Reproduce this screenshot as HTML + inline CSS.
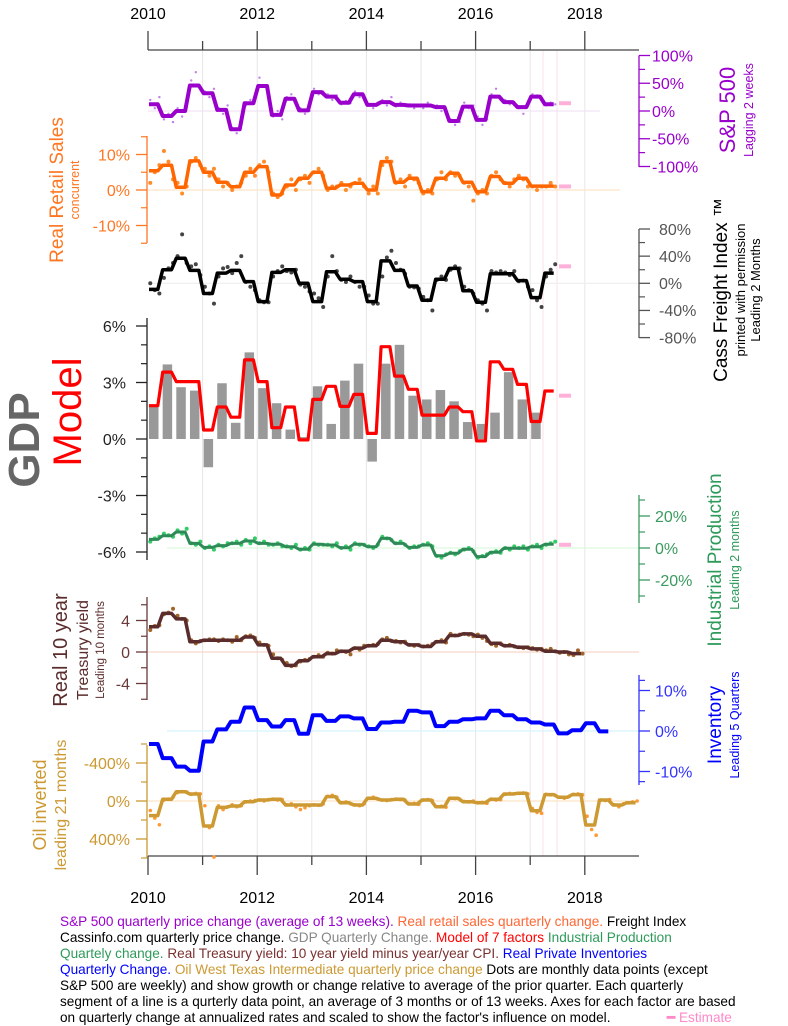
<!DOCTYPE html>
<html><head><meta charset="utf-8"><style>
body{margin:0;background:#fff;width:788px;height:1024px;overflow:hidden;font-family:"Liberation Sans",Arial,sans-serif}
svg{position:absolute;left:0;top:0}
#cap{position:absolute;left:60px;top:914px;width:720px;font-size:13.6px;line-height:16px;color:#000;white-space:nowrap}
</style></head><body>
<svg id="c" width="788" height="1024"></svg>
<div id="cap"><span style="color:#9900cc">S&amp;P 500 quarterly price change (average of 13 weeks).</span> <span style="color:#ff6633">Real retail sales quarterly change.</span> Freight Index<br>Cassinfo.com quarterly price change. <span style="color:#888">GDP Quarterly Change.</span> <span style="color:#ff0000">Model of 7 factors</span> <span style="color:#2e9a5a">Industrial Production</span><br><span style="color:#2e9a5a">Quartely change.</span> <span style="color:#7a3030">Real Treasury yield: 10 year yield minus year/year CPI.</span> <span style="color:#0000ff">Real Private Inventories</span><br><span style="color:#0000ff">Quarterly Change.</span> <span style="color:#cc9933">Oil West Texas Intermediate quarterly price change</span> Dots are monthly data points (except<br>S&amp;P 500 are weekly) and show growth or change relative to average of the prior quarter. Each quarterly<br>segment of a line is a qurterly data point, an average of 3 months or of 13 weeks. Axes for each factor are based<br>on quarterly change at annualized rates and scaled to show the factor's influence on model.<span style="color:#ff88c8;position:absolute;left:607px"><b>━</b> Estimate</span></div>
<script>
const years=[2010,2011,2012,2013,2014,2015,2016,2017,2018];
const spLine=[12,-9,0,46,32,2,-33,14,45,-7,22,1,34,26,15,30,11,16,11,10,10,7,-18,8,-16,26,16,7,26,12];
const spDots=[20,5,25,-15,-5,-20,5,-10,10,55,70,40,35,25,40,5,-5,10,-30,-40,-25,10,20,18,60,45,35,-10,0,-15,25,30,15,5,-5,0,40,30,35,30,20,28,12,18,14,35,25,28,12,5,15,20,10,25,8,15,10,12,5,10,5,15,8,10,0,-5,-15,-25,-20,15,5,10,-10,-25,-15,30,40,20,20,12,16,5,-5,15,30,28,20,10,15,12];
const retailLine=[5.4,7,0.8,8.2,5,2.2,0.9,5,6.6,-1.4,1.4,3.3,5,0.5,1.4,1.9,0,8,2.2,3.3,-0.5,3.3,4.7,2.2,-0.5,3.8,1.9,3.3,1.1,1.1];
const retailDots=[2,5,7,11,8,3,2,-1,1,8,9,7,6,4,6,3,1,2,0,1,2,4,6,4,7,8,5,-1,-2,-1,1,3,0,3,4,2,5,6,4,0,1,1,2,0,1,2,3,1,-1,1,-1,7,9,8,2,3,1,4,3,2,-1,0,-1,3,5,3,5,4,4,2,1,-3,-1,0,-1,4,5,3,2,1,3,4,3,1,1,0,1,1,2,1];
const freightLine=[-9,20,37,19,-15,15,19,2.5,-27,16,20,0,-27,17,6,2.5,-27,33,19,-4,-25,6,22,-11,-28,14,14,4,-21,15];
const freightDots=[0,-10,-15,8,22,30,40,72,30,25,28,12,-5,-15,-30,10,22,24,15,30,40,2,-5,-10,-25,-28,-28,10,18,25,18,16,20,-2,-5,-12,-15,-22,-35,10,40,18,5,2,10,2,-5,-5,-18,-30,-30,10,38,48,30,20,14,-5,-6,-8,-20,-25,-40,5,10,5,20,25,22,-5,-10,-15,-25,-30,-40,18,16,18,16,12,18,3,4,-5,-10,-25,-35,10,20,28];
const gdpBars=[1.7,3.96,2.75,2.57,-1.5,2.96,0.86,4.6,2.7,1.9,0.5,0.1,2.8,0.8,3.1,4.0,-1.2,4.0,5.0,2.3,2.1,2.6,2.0,0.9,0.8,1.4,3.55,2.1,1.4];
const modelLine=[1.77,3.55,3.05,3.05,0.48,1.7,1.16,4.2,3.05,0.6,1.7,-0.05,2.1,2.8,1.73,2.37,0.3,4.9,3.34,2.64,1.27,1.27,1.7,1.45,-0.1,4.1,3.7,2.9,0.93,2.55];
const ipLine=[5.4,7.7,10,2.9,0.4,1.5,2.9,4.4,2.9,2.3,0.8,-0.8,2.3,1.9,0.2,2.3,0.8,6,2.9,0.4,1.9,-4.8,-3.3,-0.8,-5.4,-2.7,-0.2,-0.2,0.8,2.3];
const ipDots=[4,6,7,9,8,7,11,9,12,3,2,4,0,1,-1,2,1,3,3,4,2,5,3,6,3,4,2,2,3,1,1,0,2,-1,0,-1,3,2,2,2,1,3,0,1,-1,3,2,2,1,0,2,7,6,5,3,4,2,0,1,1,2,3,1,-5,-6,-4,-3,-4,-2,-1,0,-2,-6,-5,-4,-3,-2,-3,0,-1,1,0,1,-1,1,2,0,2,3,4];
const tsyLine=[3.2,4.9,4.2,1.3,1.5,1.5,1.5,1.9,0.9,-0.8,-1.7,-1.1,-0.6,-0.2,0.1,0.5,0.8,1.5,1.3,0.9,0.7,1.3,2.1,2.3,2.0,1.1,0.8,0.6,0.4,0.1,0,-0.2];
const tsyDots=[2.8,3.3,3.4,4.8,5.0,5.5,4.6,4.2,4.0,1.5,1.1,1.4,1.5,1.6,1.6,1.4,1.6,1.5,1.3,1.9,1.5,2.0,2.1,1.8,1.2,0.9,0.8,-0.3,-0.8,-1.0,-1.4,-1.8,-1.7,-1.2,-1.0,-0.9,-0.6,-0.4,-0.6,-0.1,-0.2,0.2,0.1,0.0,-0.3,0.5,0.3,0.8,0.8,0.9,1.0,1.6,1.8,1.4,1.4,1.2,1.3,0.9,0.8,0.9,0.7,0.8,1.0,1.3,1.5,1.2,2.3,2.1,2.2,2.3,2.2,2.0,2.2,1.8,1.4,1.0,0.8,1.1,0.8,0.9,0.7,0.6,0.5,0.6,0.5,0.3,0.4,0.2,0.4,0.1,-0.1,0.0,-0.3,-0.4,0.2,-0.2];
const invLine=[-3.2,-6.7,-8.8,-9.8,-2.6,0.4,2.3,5.8,2.7,1.1,2.7,-0.7,3.9,2.5,3.6,3.1,0.5,2.1,2.3,5.0,4.6,1.2,2.3,2.9,3.1,5.0,3.9,2.9,2.1,1.6,-0.6,0.2,1.9,-0.1];
const oilLine=[154,-18,-98,-74,263,67,53,7,-10,-18,42,42,42,-46,18,42,-28,-10,-18,32,-10,60,-28,7,18,-18,-74,-81,102,-67,-39,-67,253,-10,42,18];
const oilDots=[100,180,250,-10,-20,-40,-90,-100,-95,-70,-80,-75,50,280,590,50,90,60,40,60,50,10,0,-5,-10,0,-15,-20,-10,-15,40,30,60,90,70,50,40,45,30,-50,-60,-40,20,10,30,40,50,30,-30,-40,-20,-10,-5,-15,-20,-15,-10,30,25,35,-10,-15,-5,60,55,65,-30,-25,-20,5,10,0,20,15,25,-20,-10,-15,-70,-80,-75,-80,-85,-75,80,120,130,-70,-65,-60,-40,-30,-45,-70,-75,-65,160,300,360,-10,-5,-15,40,60,30,20,10,0];
const estimates={sp:14,retail:1,freight:25,gdp:2.3,ip:2};

const NS="http://www.w3.org/2000/svg",svg=document.getElementById('c');
const X0=148,YW=54.6,QW=YW/4;
function X(t){return X0+t*YW;}
function el(tag,a,txt,parent){const e=document.createElementNS(NS,tag);for(const k in a)e.setAttribute(k,a[k]);if(txt!==undefined)e.textContent=txt;(parent||svg).appendChild(e);return e;}
function lin(v0,y0,v1,y1){return v=>y0+(v-v0)*(y1-y0)/(v1-v0);}
function txt(x,y,s,size,fill,anchor,rot,weight,name){const a={x:x,y:y,'font-size':size,fill:fill,'text-anchor':anchor||'start','font-family':'Liberation Sans, Arial, sans-serif'};if(rot)a.transform='rotate(-90 '+x+' '+y+')';if(weight)a['font-weight']=weight;const e=el('text',a,s);


return e;}
for(let k=1;k<years.length;k++){const g=el('line',{x1:X(k),x2:X(k),y1:50,y2:856,stroke:'#e6e6e6','stroke-width':1});

}
[543,557].forEach(x=>{const g=el('line',{x1:x,x2:x,y1:50,y2:856,stroke:'#fbe0ea','stroke-width':1});

});
function xAxis(y,dir,labY,name){const g=el('g',{});


el('line',{x1:X0,x2:639,y1:y,y2:y,stroke:'#444','stroke-width':1.3},undefined,g);
years.forEach((yr,k)=>{const big=k%2===0;el('line',{x1:X(k),x2:X(k),y1:y,y2:y+dir*(big?19:9),stroke:'#444','stroke-width':1.3},undefined,g);
if(big){el('text',{x:X(k),y:labY,'font-size':16,'text-anchor':'middle',fill:'#000'},yr,g);}});}
xAxis(50,-1,19,'top-x-axis');xAxis(856,1,903,'bottom-x-axis');
function yAxis(x,yTop,yBot,side,color,ticks,minor,scale,fmt,size,labOff,name){const g=el('g',{});


el('line',{x1:x,x2:x,y1:yTop,y2:yBot,stroke:color,'stroke-width':1.3},undefined,g);
minor.forEach(v=>el('line',{x1:x,x2:x+side*6,y1:scale(v),y2:scale(v),stroke:color,'stroke-width':1.2},undefined,g));
ticks.forEach(v=>{el('line',{x1:x,x2:x+side*11,y1:scale(v),y2:scale(v),stroke:color,'stroke-width':1.3},undefined,g);
el('text',{x:x+side*labOff,y:scale(v)+size*0.36,'font-size':size,fill:color,'text-anchor':side>0?'start':'end'},fmt(v),g);});}
function zero(y,x1,x2,color,name){const z=el('line',{x1:x1,x2:x2,y1:y,y2:y,stroke:color,'stroke-width':1.2});

}
function step(vals,scale,color,w,name){let d='';vals.forEach((v,i)=>{const y=scale(v);d+=(i?'L':'M')+(X(i/4)+1).toFixed(1)+','+y.toFixed(1)+'L'+(X(i/4)+QW*0.72).toFixed(1)+','+y.toFixed(1);});
const p=el('path',{d:d,fill:'none',stroke:color,'stroke-width':w,'stroke-linejoin':'round'});

}
function dots(vals,scale,color,r,name){const g=el('g',{fill:color});


vals.forEach((v,i)=>el('circle',{cx:X((i+0.5)/12),cy:scale(v),r:r},undefined,g));}
function est(v,scale,name){const e=el('line',{x1:559,x2:571,y1:scale(v),y2:scale(v),stroke:'#ffb0d8','stroke-width':4});

}
const pct=v=>v+'%';
const ySP=lin(0,111,100,55.5);
zero(111,148,600,'#f0e4f4','sp-zero-line');
yAxis(639,55.5,167,1,'#9900cc',[100,50,0,-50,-100],[75,25,-25,-75],ySP,pct,16,13,'sp-axis');
dots(spDots,ySP,'#c080e8',1.2,'sp-dots');
step(spLine,ySP,'#9900cc',4,'sp-line');est(estimates.sp,ySP,'sp-estimate');
txt(735,110,'S&P 500',22,'#9900cc','middle',1,null,'sp-title');txt(753,110,'Lagging 2 weeks',12.5,'#9900cc','middle',1,null,'sp-subtitle');
const yR=lin(0,190,10,154.5);
zero(190,148,620,'#fde3c8','retail-zero-line');
yAxis(147,136,243,-1,'#ff7722',[10,0,-10],[15,5,-5,-15],yR,pct,16,17,'retail-axis');
dots(retailDots,yR,'#ff8c2a',2,'retail-dots');
step(retailLine,yR,'#ff6600',3.5,'retail-line');est(estimates.retail,yR,'retail-estimate');
txt(63,190,'Real Retail Sales',19,'#ff7722','middle',1,null,'retail-title');txt(79,190,'concurrent',12.5,'#ff7722','middle',1,null,'retail-subtitle');
const yF=lin(0,283.3,80,229);
zero(283.3,148,639,'#eeeeee','freight-zero-line');
yAxis(639,229,338,1,'#555',[80,40,0,-40,-80],[60,20,-20,-60],yF,pct,16,20,'freight-axis');
dots(freightDots,yF,'#444',2,'freight-dots');
step(freightLine,yF,'#000',3.5,'freight-line');est(estimates.freight,yF,'freight-estimate');
txt(727,290,'Cass Freight Index ™',19,'#000','middle',1,null,'freight-title');txt(745,290,'printed with permission',13,'#000','middle',1,null,'freight-subtitle');txt(760,290,'Leading 2 Months',13,'#000','middle',1,null,'freight-subtitle-2');
const yG=lin(0,439,3,382.5);
yAxis(147,318,560,-1,'#222',[6,3,0,-3,-6],[5,4,2,1,-1,-2,-4,-5],yG,v=>v+'%',16,21,'gdp-axis');
const bg=el('g',{fill:'#999'});


gdpBars.forEach((v,i)=>{const x=X(i/4)+1,y0=yG(0),y1=yG(v);el('rect',{x:x,y:Math.min(y0,y1),width:9.5,height:Math.abs(y1-y0)},undefined,bg);});
step(modelLine,yG,'#ff0000',3.2,'model-line');est(estimates.gdp,yG,'gdp-estimate');
txt(39,440,'GDP',44,'#666','middle',1,'bold','gdp-title');txt(81,412,'Model',40,'#ff0000','middle',1,null,'model-title');
const yI=lin(0,548,20,516);
zero(548,167,639,'#dcfadc','ip-zero-line');
yAxis(639,495,603,1,'#3a9a60',[20,0,-20],[30,10,-10,-30],yI,pct,16,16,'ip-axis');
dots(ipDots,yI,'#33cc66',2,'ip-dots');
step(ipLine,yI,'#2e8b57',3,'ip-line');est(estimates.ip,yI,'ip-estimate');
txt(721,560,'Industrial Production',19,'#2e9a5a','middle',1,null,'ip-title');txt(739,560,'Leading 2 months',12.5,'#2e9a5a','middle',1,null,'ip-subtitle');
const yT=lin(0,652,4,620.5);
zero(652,148,639,'#f8d8cc','treasury-zero-line');
yAxis(147,597,700,-1,'#6a3a3a',[4,0,-4],[6,2,-2,-6],yT,v=>String(v),16,17,'treasury-axis');
dots(tsyDots,yT,'#a0662a',2,'treasury-dots');
step(tsyLine,yT,'#5b2c2c',3.5,'treasury-line');
txt(67,650,'Real 10 year',20,'#5b2c2c','middle',1,null,'treasury-title');txt(88,650,'Treasury yield',16,'#5b2c2c','middle',1,null,'treasury-title-2');txt(104,650,'Leading 10 months',11.5,'#5b2c2c','middle',1,null,'treasury-subtitle');
const yV=lin(0,731,10,690.5);
zero(731,167,639,'#d8f4fc','inventory-zero-line');
yAxis(639,675,785,1,'#3333ff',[10,0,-10],[12.5,5,-5,-12.5],yV,pct,16,16,'inventory-axis');
step(invLine,yV,'#0000ff',4,'inventory-line');
txt(721,725,'Inventory',19,'#0000ff','middle',1,null,'inventory-title');txt(739,725,'Leading 5 Quarters',12.5,'#0000ff','middle',1,null,'inventory-subtitle');
const yO=lin(0,801,400,839);
zero(801,148,639,'#fde3c8','oil-zero-line');
yAxis(147,745,858,-1,'#cc9933',[-400,0,400],[-600,-200,200,600],yO,pct,16,17,'oil-axis');
dots(oilDots,yO,'#ff9933',1.8,'oil-dots');
step(oilLine,yO,'#cc9933',3.5,'oil-line');
txt(46,805,'Oil inverted',18,'#cc9933','middle',1,null,'oil-title');txt(66,805,'leading 21 months',16,'#cc9933','middle',1,null,'oil-subtitle');
</script>
</body></html>
